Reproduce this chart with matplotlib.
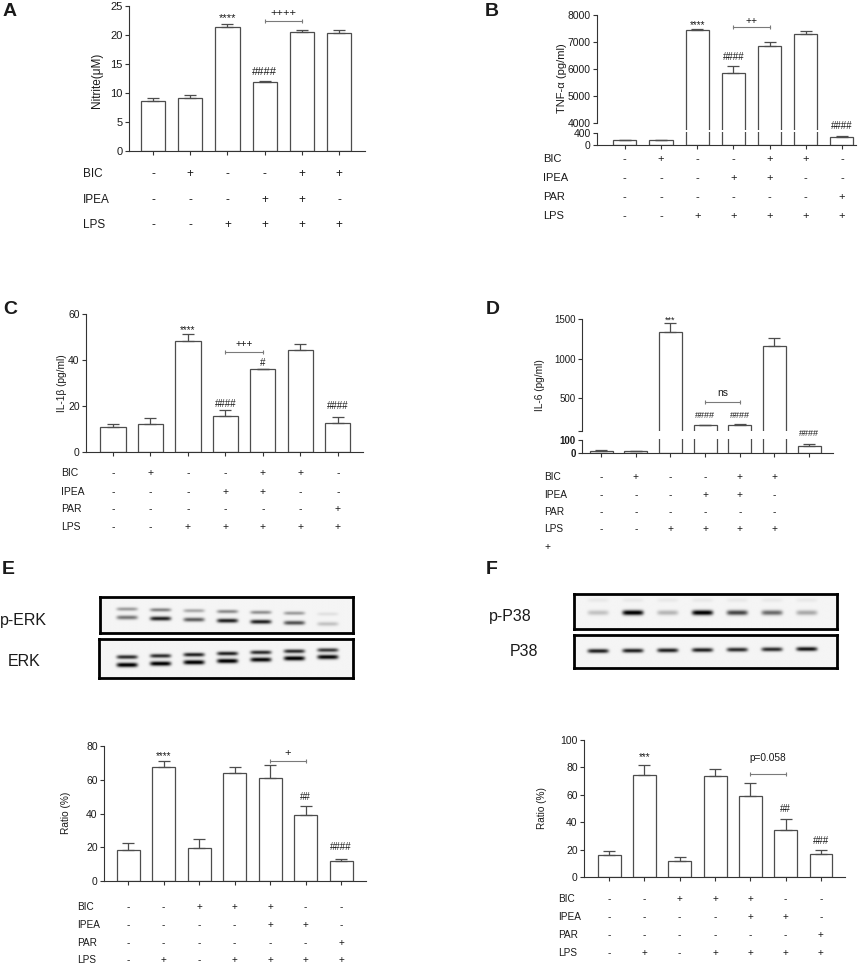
import numpy as np
import matplotlib
matplotlib.use('Agg')
import matplotlib.pyplot as plt
from matplotlib import transforms

plt.rcParams['font.family'] = ['Liberation Sans', 'DejaVu Sans']

W, H = 858, 965
EDGE = '#4d4d4d'
INK = '#1a1a1a'
GRAY = '#7a7a7a'

# ---------------- data ----------------
# A: nitrite
a_vals = [8.7, 9.2, 21.3, 11.95, 20.6, 20.3]
a_errs = [0.4, 0.45, 0.65, 0.15, 0.3, 0.55]
a_bic = ['-', '+', '-', '-', '+', '+']
a_ipea = ['-', '-', '-', '+', '+', '-']
a_lps = ['-', '-', '+', '+', '+', '+']

# B: TNF-a
b_vals = [160, 150, 7446, 5846, 6843, 7311, 250]
b_errs = [20, 20, 37, 259, 160, 86, 55]

# C: IL-1b
c_vals = [10.75, 12.2, 48.1, 15.6, 35.9, 44.5, 12.8]
c_errs = [1.45, 2.5, 3.1, 2.6, 0.4, 2.3, 2.6]

# D: IL-6
d_vals = [18, 15, 1332, 160, 168, 1164, 57]
d_errs = [3, 3, 118, 8, 8, 97, 9]

# treatments for B, C, D
bcd_bic = ['-', '+', '-', '-', '+', '+', '-']
bcd_ipea = ['-', '-', '-', '+', '+', '-', '-']
bcd_par = ['-', '-', '-', '-', '-', '-', '+']
bcd_lps = ['-', '-', '+', '+', '+', '+', '+']

# E: p-ERK / ERK ratio
e_vals = [18.6, 67.3, 19.6, 63.8, 61.2, 39.0, 11.9]
e_errs = [4.2, 4.0, 5.3, 3.7, 7.3, 5.6, 1.2]

# F: p-P38 / P38 ratio
f_vals = [16.3, 74.5, 11.7, 73.7, 58.9, 34.1, 17.0]
f_errs = [2.9, 7.0, 3.1, 5.1, 10.0, 8.0, 2.7]

# treatments for E, F
ef_bic = ['-', '-', '+', '+', '+', '-', '-']
ef_ipea = ['-', '-', '-', '-', '+', '+', '-']
ef_par = ['-', '-', '-', '-', '-', '-', '+']
ef_lps = ['-', '+', '-', '+', '+', '+', '+']

# blot band darkness per lane
perk_upper = [0.35, 0.45, 0.3, 0.42, 0.4, 0.35, 0.08]
perk_lower = [0.5, 0.85, 0.6, 0.85, 0.85, 0.65, 0.2]
erk_upper = [0.8, 0.8, 0.85, 0.85, 0.8, 0.8, 0.75]
erk_lower = [1.0, 1.0, 1.0, 1.0, 0.95, 1.0, 0.95]
pp38 = [0.2, 1.0, 0.25, 1.0, 0.7, 0.55, 0.3]
p38 = [0.85, 0.85, 0.85, 0.85, 0.8, 0.8, 0.9]

fig = plt.figure(figsize=(W / 100, H / 100), dpi=100)


def px_axes(x0, y0, x1, y1):
    return fig.add_axes([x0 / W, 1 - y1 / H, (x1 - x0) / W, (y1 - y0) / H])


def ftext(x, y, s, **kw):
    kw.setdefault('color', INK)
    fig.text(x / W, 1 - y / H, s, **kw)


def style(ax, fs, bottom=True):
    for s in ['top', 'right']:
        ax.spines[s].set_visible(False)
    ax.spines['left'].set_color('#333333')
    ax.spines['bottom'].set_color('#333333')
    ax.spines['left'].set_linewidth(0.8)
    ax.spines['bottom'].set_linewidth(0.8)
    if not bottom:
        ax.spines['bottom'].set_visible(False)
    ax.tick_params(direction='out', length=3, width=0.8, labelsize=fs,
                   colors='#333333', labelcolor=INK, pad=1.5)


def bars(ax, vals, errs, width, xlim, fs, bottom=True):
    x = np.arange(len(vals))
    ax.bar(x, vals, width, color='white', edgecolor=EDGE, linewidth=0.9)
    ax.errorbar(x, vals, yerr=[np.zeros(len(vals)), errs], fmt='none',
                ecolor=EDGE, elinewidth=0.9, capsize=4, capthick=0.9)
    ax.set_xlim(xlim)
    style(ax, fs, bottom)
    if bottom:
        ax.set_xticks(x)
        ax.set_xticklabels([])
    else:
        ax.set_xticks([])


def marks(ax, items, fs):
    for i, y, s in items:
        ax.text(i, y, s, ha='center', va='center', fontsize=fs, color=INK)


def bracket(ax, i, j, y, label, ly, fs):
    ax.plot([i, j], [y, y], color=GRAY, lw=0.8, marker='|', ms=3, mew=0.8,
            clip_on=False)
    ax.text((i + j) / 2, ly, label, ha='center', va='center', fontsize=fs,
            color=INK)


def rows(ax, label_x, ys, names, table, fs, n=None):
    tr = transforms.blended_transform_factory(ax.transData, fig.transFigure)
    for name, y, signs in zip(names, ys, table):
        ftext(label_x, y, name, ha='left', va='center', fontsize=fs)
        for i, s in enumerate(signs[:n]):
            ax.text(i, 1 - y / H, s, transform=tr, ha='center', va='center',
                    fontsize=fs, color=INK)


def blot(ax, bands, height, first, last):
    nx, ny = 600, 120
    box_w = ax.get_position().width * W
    xs = np.linspace(0, box_w, nx)
    ys = np.linspace(0, height, ny)
    img = np.full((ny, nx), 0.04)
    lanes = np.linspace(first, last, 7)
    for y0, y1, sig, dark in bands:
        yc = np.linspace(y0, y1, 7)
        for lx, cy, d in zip(lanes, yc, dark):
            hx = np.exp(-((xs - lx) / 10.5) ** 6)
            hy = np.exp(-0.5 * ((ys - cy) / sig) ** 2)
            img += d * np.outer(hy, hx)
    ax.imshow(np.clip(img, 0, 1), cmap='gray_r', vmin=0, vmax=1,
              aspect='auto', extent=[0, box_w, height, 0],
              interpolation='bilinear')
    ax.set_xticks([])
    ax.set_yticks([])
    for s in ax.spines.values():
        s.set_linewidth(2.0)
        s.set_color('black')


# ---------------- A ----------------
axA = px_axes(129, 6, 365, 151)
bars(axA, a_vals, a_errs, 0.65, (-0.65, 5.7), 8)
axA.set_ylim(0, 25)
axA.set_yticks([0, 5, 10, 15, 20, 25])
marks(axA, [(2, 22.9, '****'), (3, 13.6, '####')], 8)
bracket(axA, 3, 4, 22.4, '++++', 23.8, 8)
ftext(97, 80, 'Nitrite(\u03bcM)', rotation=90, ha='center', va='center', fontsize=8.5)
rows(axA, 83, [174, 200, 225], ['BIC', 'IPEA', 'LPS'], [a_bic, a_ipea, a_lps], 8.5)
ftext(3, 12, 'A', fontsize=14, fontweight='bold', ha='left', va='center')

# ---------------- B ----------------
xlB = (-0.77, 6.39)
axBu = px_axes(597, 15, 856, 130)
bars(axBu, b_vals, b_errs, 0.64, xlB, 7.5, bottom=False)
axBu.set_ylim(3740, 8000)
axBu.spines['left'].set_bounds(4000, 8000)
axBu.set_yticks([4000, 5000, 6000, 7000, 8000])
axBl = px_axes(597, 132, 856, 145)
bars(axBl, b_vals, b_errs, 0.64, xlB, 7.5)
axBl.set_ylim(0, 433)
axBl.spines['left'].set_bounds(0, 400)
axBl.set_yticks([0, 400])
marks(axBu, [(2, 7630, '****'), (3, 6456, '####'), (6, 3870, '####')], 7)
bracket(axBu, 3, 4, 7567, '++', 7778, 7.5)
ftext(562, 78, 'TNF-\u03b1 (pg/ml)', rotation=90, ha='center', va='center', fontsize=8)
rows(axBl, 543, [159, 178, 197, 216], ['BIC', 'IPEA', 'PAR', 'LPS'],
     [bcd_bic, bcd_ipea, bcd_par, bcd_lps], 8)
ftext(485, 12, 'B', fontsize=14, fontweight='bold', ha='left', va='center')

# ---------------- C ----------------
axC = px_axes(86, 314, 363, 452)
bars(axC, c_vals, c_errs, 0.67, (-0.72, 6.67), 7.5)
axC.set_ylim(0, 60)
axC.set_yticks([0, 20, 40, 60])
marks(axC, [(2, 53.0, '****'), (4, 38.6, '#'), (3, 20.7, '####'), (6, 19.9, '####')], 7)
bracket(axC, 3, 4, 43.3, '+++', 47.0, 7)
ftext(62, 383, 'IL-1\u03b2 (pg/ml)', rotation=90, ha='center', va='center', fontsize=7.3)
rows(axC, 61, [473, 492, 509, 527], ['BIC', 'IPEA', 'PAR', 'LPS'],
     [bcd_bic, bcd_ipea, bcd_par, bcd_lps], 7.5)
ftext(3, 310, 'C', fontsize=14, fontweight='bold', ha='left', va='center')

# ---------------- D ----------------
xlD = (-0.55, 6.69)
axDu = px_axes(582, 319, 833, 431)
bars(axDu, d_vals, d_errs, 0.66, xlD, 7, bottom=False)
axDu.set_ylim(90, 1500)
axDu.set_yticks([90, 500, 1000, 1500])
axDu.set_yticklabels(['', '500', '1000', '1500'])
axDl = px_axes(582, 439, 833, 453)
bars(axDl, d_vals, d_errs, 0.66, xlD, 7)
axDl.set_ylim(0, 108)
axDl.spines['left'].set_bounds(0, 100)
axDl.set_yticks([0, 100])
for t in axDl.get_yticklabels():
    t.set_fontweight('bold')
marks(axDu, [(2, 1490, '***'), (3, 283, '####'), (4, 283, '####'), (6, 56, '####')], 6.5)
bracket(axDu, 3, 4, 452, 'ns', 565, 7.5)
ftext(540, 385, 'IL-6 (pg/ml)', rotation=90, ha='center', va='center', fontsize=7.3)
rows(axDl, 544, [477, 495, 512, 529], ['BIC', 'IPEA', 'PAR', 'LPS'],
     [bcd_bic, bcd_ipea, bcd_par, bcd_lps], 7.3, n=6)
ftext(547, 547, bcd_lps[6], ha='center', va='center', fontsize=7.3)
ftext(486, 309, 'D', fontsize=14, fontweight='bold', ha='left', va='center')

# ---------------- E ----------------
axE1 = px_axes(100, 597, 353, 633)
blot(axE1, [(12, 17, 1.3, perk_upper), (20.5, 27, 1.5, perk_lower)], 36, 27, 228)
axE2 = px_axes(99, 639, 353, 678)
blot(axE2, [(18, 11, 1.4, erk_upper), (26, 18, 1.6, erk_lower)], 39, 28, 229)
ftext(0, 621, 'p-ERK', fontsize=11.5, ha='left', va='center')
ftext(8, 662, 'ERK', fontsize=11.5, ha='left', va='center')

axE = px_axes(104, 746, 366, 881)
bars(axE, e_vals, e_errs, 0.65, (-0.68, 6.7), 7.5)
axE.set_ylim(0, 80)
axE.set_yticks([0, 20, 40, 60, 80])
marks(axE, [(1, 74.3, '****'), (5, 49.8, '##'), (6, 20.2, '####')], 7)
bracket(axE, 4, 5, 71.3, '+', 76.0, 8)
ftext(66, 813, 'Ratio (%)', rotation=90, ha='center', va='center', fontsize=7.3)
rows(axE, 77, [907, 925, 943, 960], ['BIC', 'IPEA', 'PAR', 'LPS'],
     [ef_bic, ef_ipea, ef_par, ef_lps], 7.2)
ftext(2, 569, 'E', fontsize=14, fontweight='bold', ha='left', va='center')

# ---------------- F ----------------
axF1 = px_axes(574, 594, 837, 629)
blot(axF1, [(6, 6, 1.5, [0.05] * 7), (18.7, 18.7, 1.8, pp38)], 35, 24, 233)
axF2 = px_axes(574, 635, 837, 668)
blot(axF2, [(16, 14, 1.5, p38)], 33, 24, 233)
ftext(489, 616, 'p-P38', fontsize=11.5, ha='left', va='center')
ftext(510, 651, 'P38', fontsize=11.5, ha='left', va='center')

axF = px_axes(584, 740, 845, 877)
bars(axF, f_vals, f_errs, 0.65, (-0.71, 6.68), 7.5)
axF.set_ylim(0, 100)
axF.set_yticks([0, 20, 40, 60, 80, 100])
marks(axF, [(1, 87.6, '***'), (5, 49.4, '##'), (6, 26.3, '###')], 7)
bracket(axF, 4, 5, 75, 'p=0.058', 87, 7.3)
ftext(542, 808, 'Ratio (%)', rotation=90, ha='center', va='center', fontsize=7.2)
rows(axF, 558, [899, 917, 935, 953], ['BIC', 'IPEA', 'PAR', 'LPS'],
     [ef_bic, ef_ipea, ef_par, ef_lps], 7.2)
ftext(486, 569, 'F', fontsize=14, fontweight='bold', ha='left', va='center')

fig.savefig('out.png', dpi=100)
